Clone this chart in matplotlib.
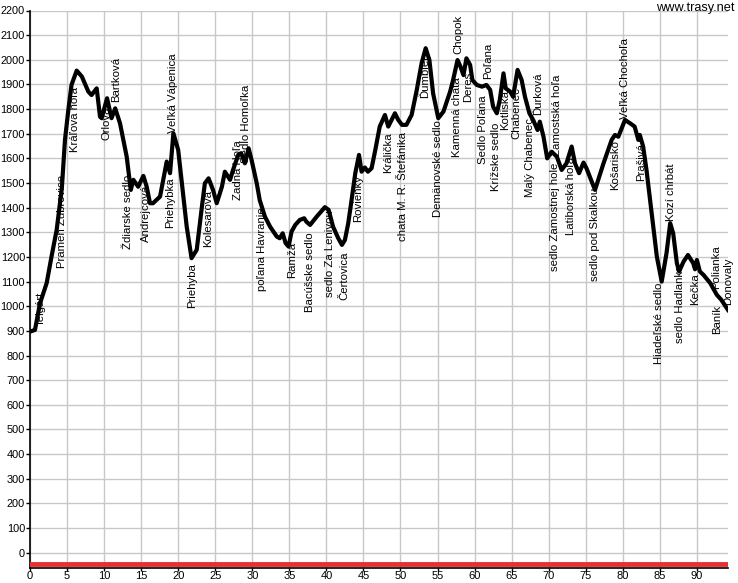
import numpy as np
import matplotlib
matplotlib.use("Agg")
import matplotlib.pyplot as plt

plt.rcParams['font.family'] = ['Liberation Sans', 'DejaVu Sans']

# elevation profile: distance [km], altitude [m]
km = [0, 0.67, 1.35, 2.25, 2.9, 3.6, 4.3, 4.72, 5.17, 5.6, 6.3, 7.0, 7.87, 8.3, 9.0,
      9.45, 9.67, 10.4, 11.0, 11.5, 12.15, 13.05, 13.6, 13.95, 14.6, 15.3, 15.75, 16.2,
      16.6, 17.55, 18.45, 18.9, 19.35, 20.0, 20.5, 21.15, 21.8, 22.5, 23.2, 23.6, 24.1,
      24.7, 25.2, 25.9, 26.3, 27.0, 27.4, 28.1, 28.5, 29.0, 29.5, 29.9, 30.6, 31.0,
      31.7, 32.4, 33.3, 33.7, 34.1, 34.5, 34.9, 35.3, 35.8, 36.4, 37.0, 37.3, 37.8,
      38.7, 39.8, 40.3, 40.9, 41.6, 42.1, 42.5, 42.95, 43.4, 43.9, 44.4, 44.75, 45.2,
      45.6, 46.1, 46.6, 47.2, 47.9, 48.35, 48.8, 49.25, 49.7, 50.2, 50.8, 51.5, 52.2,
      52.85, 53.4, 53.9, 54.4, 55.1, 55.8, 56.7, 57.1, 57.7, 58.1, 58.5, 58.9, 59.4,
      59.7, 60.3, 61.0, 61.6, 62.1, 62.5, 63.0, 63.4, 63.9, 64.2, 64.8, 65.2, 65.8,
      66.35, 66.8, 67.4, 67.9, 68.5, 68.8, 69.3, 69.8, 70.4, 71.1, 71.75, 72.4, 73.1,
      73.55, 74.1, 74.7, 75.1, 76.25, 77.4, 78.5, 78.95, 79.4, 80.3, 81.0, 81.6, 82.1,
      82.3, 82.75, 83.2, 83.9, 84.6, 85.25, 85.9, 86.4, 86.8, 87.3, 87.6, 88.2, 88.8,
      89.5, 89.75, 90.0, 90.4, 90.9, 91.8, 92.7, 93.3, 94.2]
alt = [897, 904, 1012, 1094, 1201, 1310, 1480, 1675, 1796, 1898, 1956, 1932, 1871, 1857, 1884,
       1769, 1763, 1844, 1763, 1803, 1742, 1607, 1472, 1513, 1485, 1529, 1485, 1418,
       1418, 1445, 1587, 1540, 1702, 1634, 1499, 1323, 1195, 1229, 1404, 1499, 1519,
       1472, 1418, 1485, 1546, 1513, 1553, 1614, 1621, 1580, 1641, 1594, 1499, 1431,
       1364, 1323, 1283, 1276, 1296, 1256, 1242, 1303, 1330, 1350, 1357, 1343, 1330,
       1364, 1402, 1391, 1323, 1276, 1249, 1269, 1337, 1431, 1540, 1614, 1546, 1563,
       1546, 1560, 1634, 1729, 1776, 1729, 1756, 1783, 1756, 1736, 1736, 1776, 1878,
       1986, 2047, 1999, 1864, 1763, 1790, 1871, 1918, 1999, 1972, 1938, 2006, 1979,
       1918, 1898, 1891, 1898, 1878, 1810, 1783, 1837, 1945, 1884, 1871, 1850, 1959,
       1918, 1850, 1783, 1756, 1715, 1749, 1688, 1600, 1627, 1607, 1553, 1580, 1648,
       1580, 1540, 1583, 1560, 1472, 1580, 1675, 1695, 1688, 1756, 1742, 1729, 1675,
       1695, 1648, 1553, 1378, 1201, 1100, 1215, 1337, 1296, 1175, 1141, 1181, 1208,
       1175, 1150, 1188, 1141, 1127, 1094, 1046, 1026, 985]

# place names: name, km, altitude where the label starts
names = ["Telgárt", "Prameň Zubrovice", "Kráľova hoľa", "Orlová", "Bartková",
         "Ždiarske sedlo", "Andrejcová", "Priehybka", "Veľká Vápenica", "Priehyba",
         "Kolesarová", "Zadná Hoľa", "Sedlo Homoľka", "poľana Havranie", "Ramža",
         "Bacúšske sedlo", "sedlo Za Lenivou", "Čertovica", "Rovienky", "Králička",
         "chata M. R. Štefánika", "Ďumbier", "Demänovské sedlo", "Kamenná chata",
         "Chopok", "Deres", "Sedlo Poľana", "Poľana", "Krížske sedlo", "Kotliská",
         "Chabenec", "Malý Chabenec", "Ďurková", "sedlo Zamostnej hole",
         "Zamostská hoľa", "Latiborská hoľa", "sedlo pod Skalkou", "Košarisko",
         "Veľká Chochoľa", "Prašivá", "Kozí chrbát", "Hiadeľské sedlo",
         "sedlo Hadlanka", "Kečka", "Polianka", "Baník", "Donovaly"]
name_km = [1.48, 4.32, 6.07, 10.26, 11.6, 13.2, 15.65, 18.9, 19.3, 21.9,
           24.0, 28.1, 29.15, 31.3, 35.4, 37.8, 40.5, 42.4, 44.3, 48.3,
           50.3, 53.3, 55.1, 57.6, 57.8, 59.1, 61.1, 61.8, 62.9, 64.1,
           65.7, 67.5, 68.6, 70.85, 71.1, 73.0, 76.2, 78.9, 80.3, 82.5,
           86.5, 84.9, 87.7, 89.7, 92.6, 92.7, 94.2]
name_alt = [1058, 1533, 1890, 1809, 2011, 1533, 1492, 1521, 2028, 1176,
            1472, 1675, 1898, 1403, 1261, 1298, 1391, 1221, 1533, 1707,
            1707, 2019, 1756, 1930, 2182, 1950, 1857, 2068, 1744, 1878,
            1890, 1764, 1950, 1581, 1938, 1606, 1480, 1675, 2088, 1663,
            1581, 1095, 1168, 1135, 1249, 1006, 1196]

fig = plt.figure(figsize=(7.38, 5.83), dpi=100)
ax = fig.add_axes([30/738, 15.5/583, 698/738, 557/583])

ax.plot(km, alt, color="black", lw=3, solid_joinstyle="round", zorder=3)
ax.plot([0, km[-1]], [-45, -45], color="#e83030", lw=3.5, zorder=3)

for n, x, y in zip(names, name_km, name_alt):
    ax.text(x, y, n, rotation=90, ha="center", va="top", fontsize=8.2, zorder=2)

ax.set_xlim(0, 94.2)
ax.set_ylim(-60, 2200)
ax.set_xticks(np.arange(0, 95, 5))
ax.set_yticks(np.arange(0, 2201, 100))
ax.grid(True, color="#c8c8c8", lw=1)
ax.set_axisbelow(True)
for s in ["top", "right"]:
    ax.spines[s].set_visible(False)
ax.spines["left"].set_linewidth(1.2)
ax.spines["bottom"].set_linewidth(1.2)
ax.tick_params(axis="y", labelsize=7.9, length=3, width=1, pad=0.5)
ax.tick_params(axis="x", labelsize=8.0, length=2, width=1, pad=0.5)

fig.text(735/738, 1 - 8/583, "www.trasy.net", ha="right", va="center", fontsize=9.2)

fig.savefig("out.png", dpi=100)
